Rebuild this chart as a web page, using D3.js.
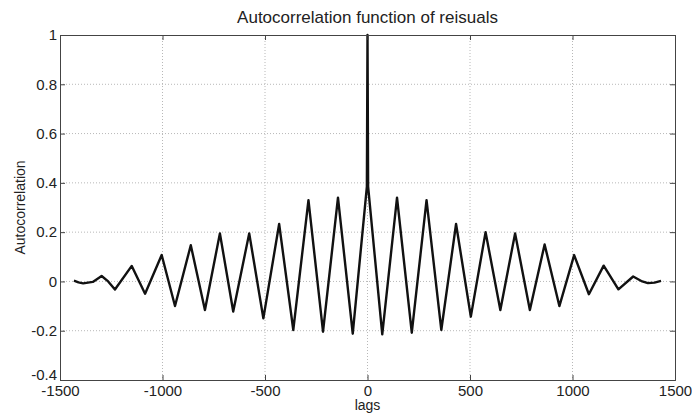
<!DOCTYPE html>
<html>
<head>
<meta charset="utf-8">
<script src="https://cdn.jsdelivr.net/npm/d3@7"></script>
<style>
  body { margin: 0; background: #fff; }
  text { font-family: "Liberation Sans", Arial, sans-serif; fill: #222; }
</style>
</head>
<body>
<div id="chart"></div>
<script>
// lags and autocorrelation values (turning points)
var lags = [-1432, -1410, -1387, -1340, -1297, -1265, -1232, -1150, -1085, -1004,
            -939, -862, -793, -720, -655, -577, -508, -431, -362, -288, -217, -144, -72,
            -3, 0, 3,
            72, 144, 216, 288, 360, 432, 504, 576, 648, 720, 792, 864, 936, 1008,
            1080, 1152, 1224, 1296, 1340, 1368, 1400, 1432];
var acf  = [0.003, -0.004, -0.008, -0.002, 0.022, 0.000, -0.033, 0.063, -0.050, 0.107,
            -0.100, 0.147, -0.116, 0.195, -0.122, 0.195, -0.150, 0.233, -0.197, 0.330, -0.204, 0.340, -0.212,
            0.385, 1.000, 0.385,
            -0.215, 0.340, -0.208, 0.330, -0.197, 0.233, -0.143, 0.200, -0.116, 0.195, -0.116, 0.150, -0.100, 0.107,
            -0.052, 0.064, -0.032, 0.020, 0.000, -0.007, -0.005, 0.002];

var xTicks = [-1500, -1000, -500, 0, 500, 1000, 1500];
var yTicks = [-0.4, -0.2, 0, 0.2, 0.4, 0.6, 0.8, 1];
var titleText = "Autocorrelation function of reisuals";
var xLabel = "lags";
var yLabel = "Autocorrelation";

var W = 692, H = 414;
var margin = {top: 35, right: 17, bottom: 34, left: 60},
    width = W - margin.left - margin.right,
    height = H - margin.top - margin.bottom;

var svg = d3.select("#chart").append("svg")
    .attr("width", W)
    .attr("height", H);

var g = svg.append("g")
    .attr("transform", "translate(" + margin.left + "," + margin.top + ")");

var x = d3.scaleLinear().domain([-1500, 1500]).range([0, width]);
var y = d3.scaleLinear().domain([-0.4, 1]).range([height, 0]);

// grid (dotted)
g.append("g").selectAll("line").data(xTicks.slice(1, -1)).enter().append("line")
    .attr("x1", function(d) { return x(d); }).attr("x2", function(d) { return x(d); })
    .attr("y1", 0).attr("y2", height)
    .attr("stroke", "#b8b8b8").attr("stroke-dasharray", "1,2");
g.append("g").selectAll("line").data(yTicks.slice(1, -1)).enter().append("line")
    .attr("y1", function(d) { return y(d); }).attr("y2", function(d) { return y(d); })
    .attr("x1", 0).attr("x2", width)
    .attr("stroke", "#b8b8b8").attr("stroke-dasharray", "1,2");

// the series
var line = d3.line()
    .x(function(d, i) { return x(lags[i]); })
    .y(function(d) { return y(d); });

g.append("path")
    .datum(acf)
    .attr("d", line)
    .attr("fill", "none")
    .attr("stroke", "#111")
    .attr("stroke-width", 2.4)
    .attr("stroke-linejoin", "round");

// axes, matlab style ticks pointing inward
function fmt(d) { return String(Math.round(d * 10) / 10); }

var xAxis = g.append("g")
    .attr("transform", "translate(0," + height + ")")
    .call(d3.axisBottom(x).tickValues(xTicks).tickSize(-5).tickPadding(5).tickFormat(fmt));
var yAxis = g.append("g")
    .call(d3.axisLeft(y).tickValues(yTicks).tickSize(-5).tickPadding(3).tickFormat(fmt));
var xTop = g.append("g")
    .call(d3.axisTop(x).tickValues(xTicks).tickSize(-5).tickFormat(""));
var yRight = g.append("g")
    .attr("transform", "translate(" + width + ",0)")
    .call(d3.axisRight(y).tickValues(yTicks).tickSize(-5).tickFormat(""));

[xAxis, yAxis, xTop, yRight].forEach(function(a) {
    a.select(".domain").attr("stroke", "#444");
    a.selectAll(".tick line").attr("stroke", "#444");
    a.selectAll("text").style("font-size", "15px").style("fill", "#222");
});

// lowest y label sits a bit high so it doesn't run into -1500
yAxis.selectAll(".tick text").filter(function(d) { return d === -0.4; }).attr("dy", "-0.05em");

// titles
svg.append("text")
    .attr("x", margin.left + width / 2)
    .attr("y", 23)
    .attr("text-anchor", "middle")
    .style("font-size", "17px")
    .text(titleText);

svg.append("text")
    .attr("x", margin.left + width / 2)
    .attr("y", 410)
    .attr("text-anchor", "middle")
    .style("font-size", "14px")
    .text(xLabel);

svg.append("text")
    .attr("transform", "rotate(-90)")
    .attr("x", -(margin.top + height / 2))
    .attr("y", 25)
    .attr("text-anchor", "middle")
    .style("font-size", "14px")
    .text(yLabel);
</script>
</body>
</html>
